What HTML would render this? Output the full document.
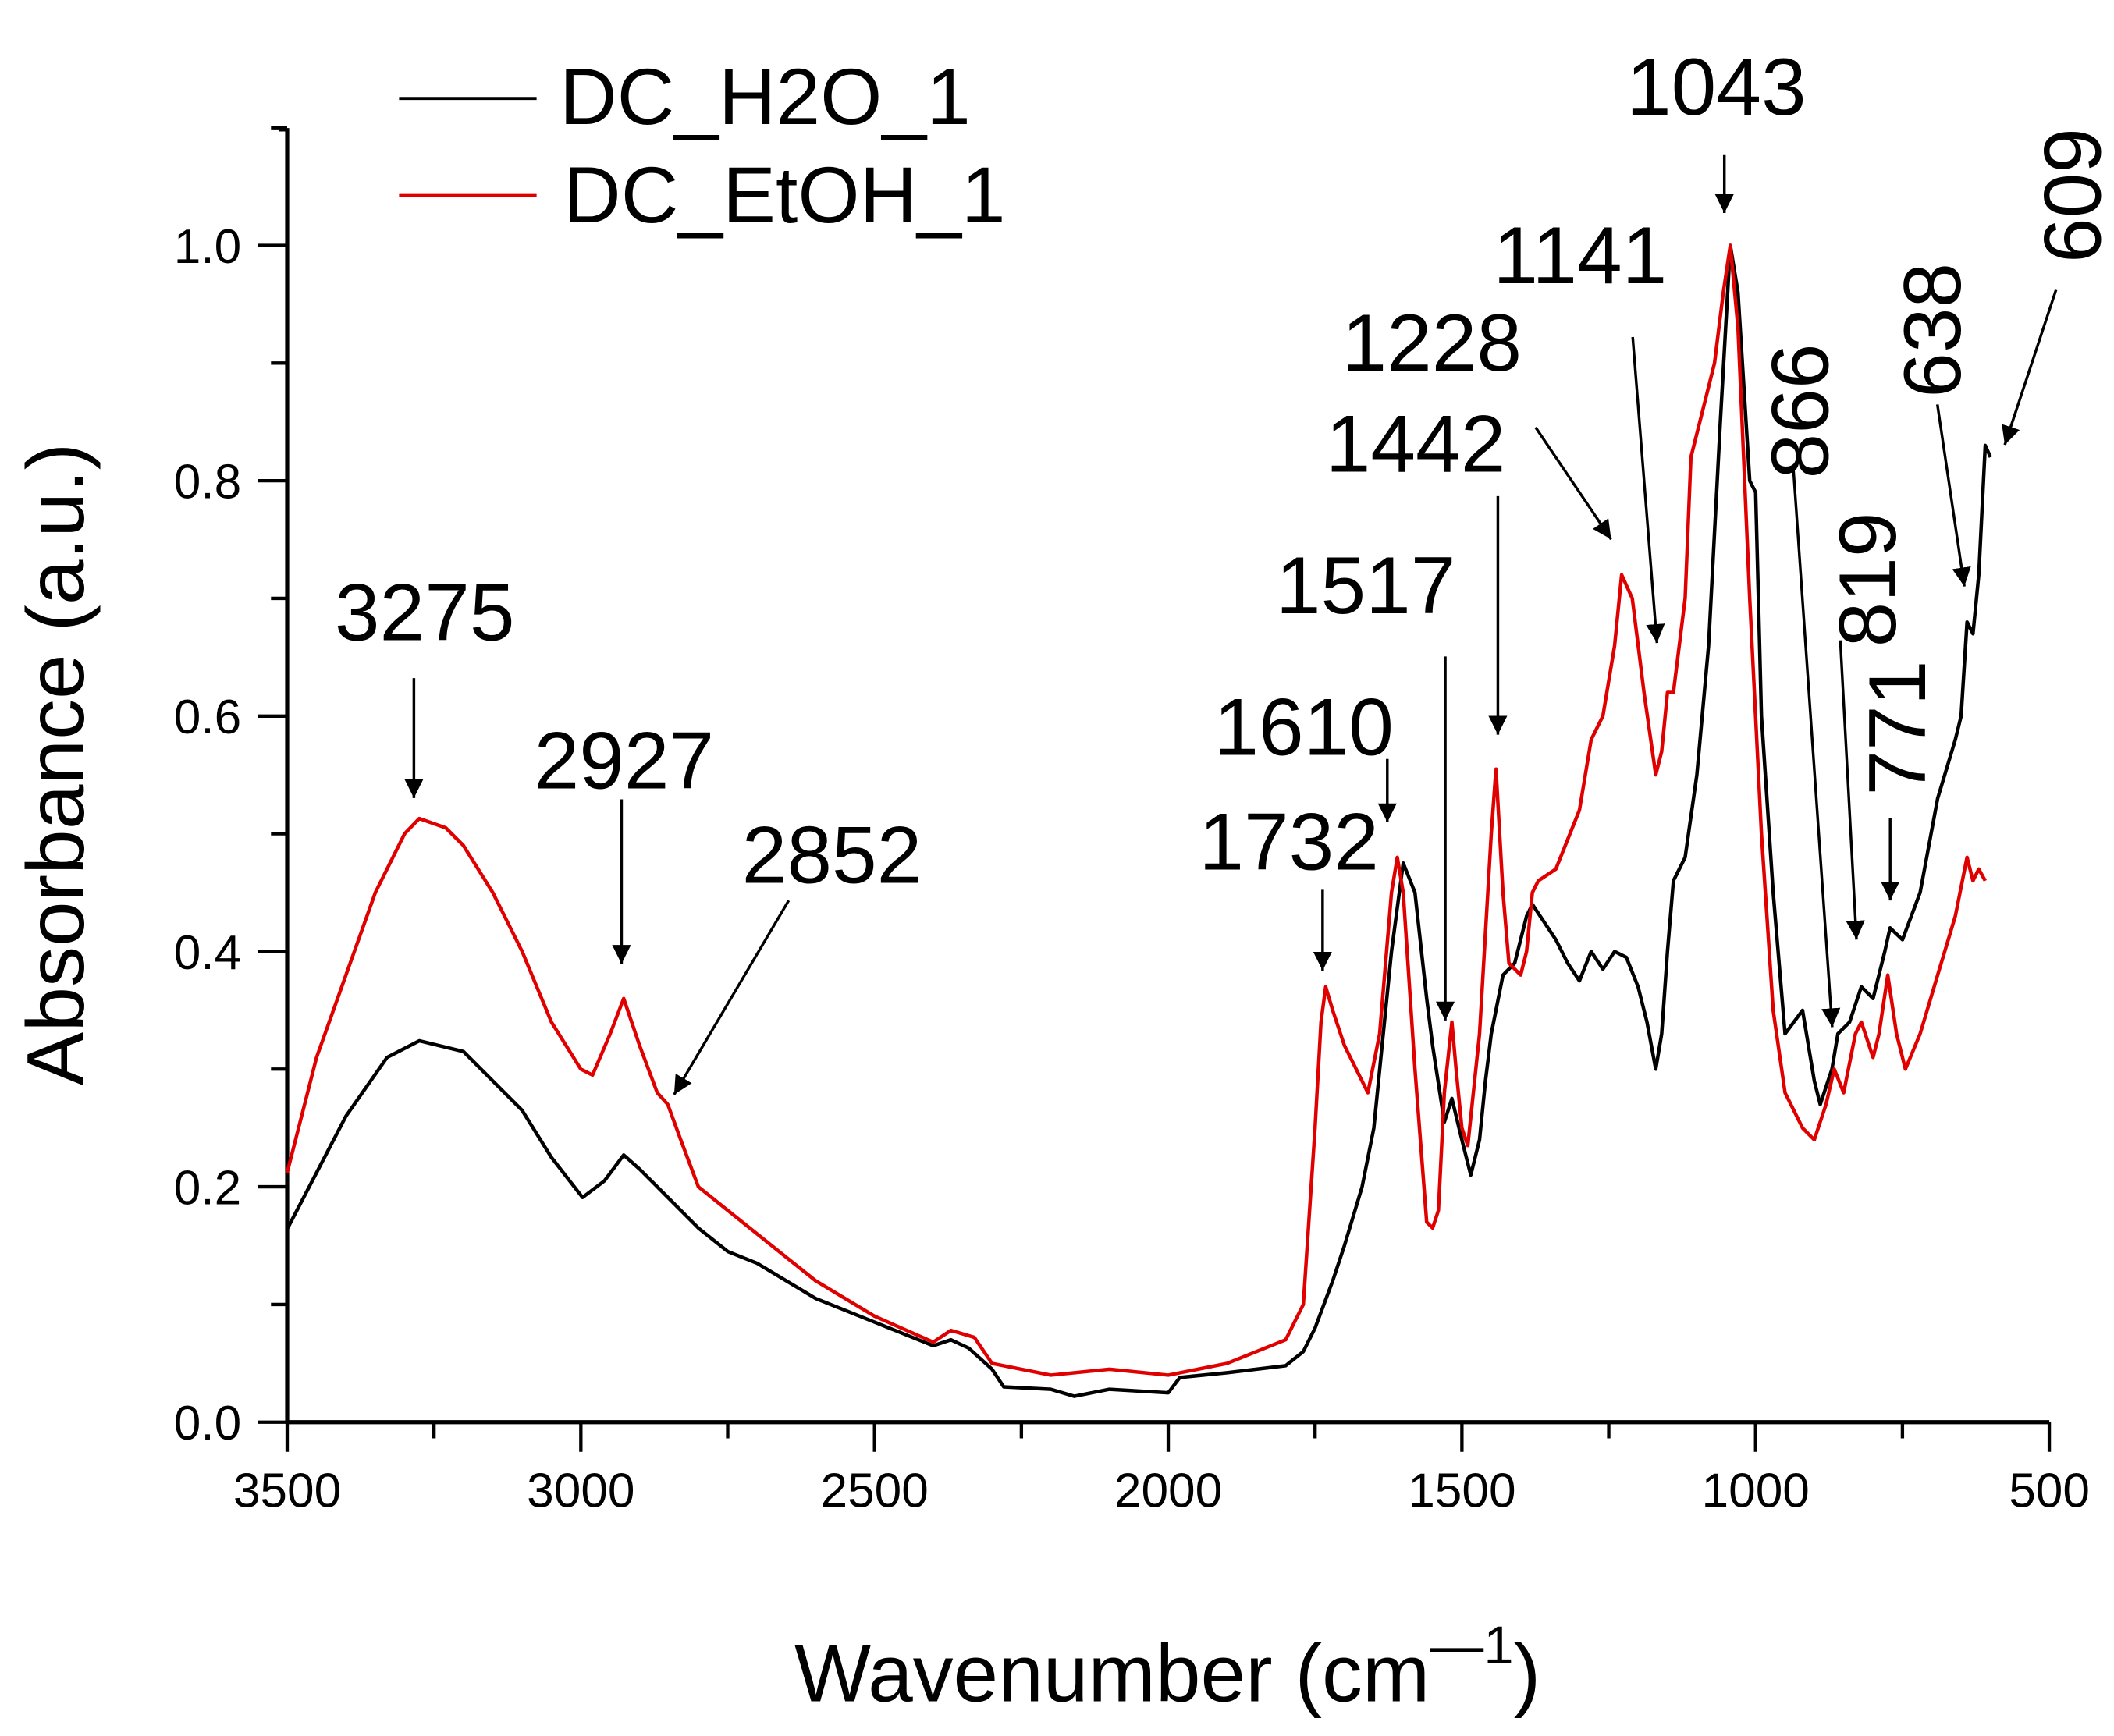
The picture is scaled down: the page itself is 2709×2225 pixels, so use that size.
<!DOCTYPE html>
<html><head><meta charset="utf-8"><style>
html,body{margin:0;padding:0;background:#fff;}
svg{display:block;font-family:"Liberation Sans",Arial,sans-serif;}
</style></head><body>
<svg id="chart" width="2709" height="2225" viewBox="0 0 1568 1287.8" xmlns="http://www.w3.org/2000/svg">
<defs><marker id="ah" viewBox="0 0 10 10" refX="10" refY="5" markerWidth="14" markerHeight="14" markerUnits="userSpaceOnUse" orient="auto"><path d="M0,0 L10,5 L0,10 z" fill="#000"/></marker></defs>
<g id="axes"></g>
<g id="series"></g>
<g id="annots"></g>
<g>
<line x1="296" y1="73" x2="398" y2="73" stroke="#000" stroke-width="2.2"/>
<text x="415" y="92" font-size="59">DC_H2O_1</text>
<line x1="296" y1="145" x2="398" y2="145" stroke="#e00000" stroke-width="2.2"/>
<text x="418" y="165" font-size="59">DC_EtOH_1</text>
</g>
<text transform="translate(62,567) rotate(-90)" text-anchor="middle" font-size="60">Absorbance (a.u.)</text>
<text x="866" y="1262" text-anchor="middle" font-size="60">Wavenumber (cm<tspan font-size="40" dy="-28">—1</tspan><tspan dy="28">)</tspan></text>
</svg>
<script>
const xTicks=[3500,3000,2500,2000,1500,1000,500];
const yTicks=[0.0,0.2,0.4,0.6,0.8,1.0];
const h2oWn=[3500,3400,3330,3275,3200,3100,3050,2997,2960,2927,2900,2870,2850,2800,2750,2700,2650,2600,2500,2400,2370,2340,2300,2280,2200,2160,2100,2000,1980,1900,1800,1770,1750,1720,1700,1670,1650,1620,1600,1580,1560,1550,1530,1517,1500,1485,1470,1460,1450,1430,1410,1390,1380,1360,1340,1320,1300,1280,1260,1240,1220,1200,1185,1170,1160,1150,1140,1120,1100,1080,1060,1043,1030,1010,1000,990,970,950,920,900,890,870,860,840,820,800,780,771,750,720,690,660,650,640,630,620,609,600];
const h2oAbs=[0.164,0.26,0.31,0.324,0.315,0.265,0.225,0.191,0.205,0.227,0.215,0.2,0.19,0.165,0.145,0.135,0.12,0.105,0.085,0.065,0.07,0.063,0.045,0.03,0.028,0.022,0.028,0.025,0.038,0.042,0.048,0.06,0.08,0.12,0.15,0.2,0.25,0.4,0.475,0.45,0.36,0.32,0.255,0.275,0.24,0.21,0.24,0.29,0.33,0.38,0.39,0.43,0.44,0.425,0.41,0.39,0.375,0.40,0.385,0.40,0.395,0.37,0.34,0.30,0.33,0.40,0.46,0.48,0.55,0.66,0.85,1.0,0.96,0.8,0.79,0.6,0.45,0.33,0.35,0.29,0.27,0.30,0.33,0.34,0.37,0.36,0.40,0.42,0.41,0.45,0.53,0.58,0.60,0.68,0.67,0.72,0.83,0.82];
const etohWn=[3500,3450,3400,3350,3300,3275,3230,3200,3150,3100,3050,3000,2980,2950,2927,2900,2870,2852,2830,2800,2750,2700,2600,2500,2400,2370,2330,2300,2200,2100,2000,1900,1800,1770,1750,1740,1732,1720,1700,1680,1660,1640,1620,1610,1600,1580,1560,1550,1540,1530,1517,1510,1500,1490,1470,1450,1442,1430,1420,1400,1390,1380,1370,1340,1300,1280,1260,1240,1228,1210,1190,1170,1160,1150,1140,1120,1110,1090,1070,1055,1043,1030,1010,990,970,950,920,900,880,866,850,830,820,800,790,775,760,745,720,690,660,640,630,620,609];
const etohAbs=[0.212,0.31,0.38,0.45,0.5,0.513,0.505,0.49,0.45,0.40,0.34,0.30,0.295,0.33,0.36,0.32,0.28,0.27,0.24,0.2,0.18,0.16,0.12,0.09,0.068,0.078,0.072,0.05,0.04,0.045,0.04,0.05,0.07,0.1,0.25,0.34,0.37,0.35,0.32,0.3,0.28,0.33,0.45,0.48,0.45,0.3,0.17,0.165,0.18,0.28,0.34,0.3,0.25,0.235,0.33,0.5,0.555,0.45,0.39,0.38,0.40,0.45,0.46,0.47,0.52,0.58,0.6,0.66,0.72,0.70,0.62,0.55,0.57,0.62,0.62,0.7,0.82,0.86,0.9,0.96,1.0,0.93,0.7,0.5,0.35,0.28,0.25,0.24,0.27,0.30,0.28,0.33,0.34,0.31,0.33,0.38,0.33,0.30,0.33,0.38,0.43,0.48,0.46,0.47,0.46];
const annLabels=["3275","2927","2852","1732","1610","1517","1442","1228","1141","1043","866","819","771","638","609"];
const NS="http://www.w3.org/2000/svg";
function X(w){return 213+(3500-w)/3000*1307;}
function Y(v){return 1055-v*873;}
function mk(tag,attrs,parent){const e=document.createElementNS(NS,tag);for(const k in attrs)e.setAttribute(k,attrs[k]);parent.appendChild(e);return e;}
const axes=document.getElementById('axes');
let l=mk('line',{x1:X(3500),y1:Y(0),x2:X(500),y2:Y(0),stroke:'#000','stroke-width':3},axes);


l=mk('line',{x1:X(3500),y1:Y(0),x2:X(3500),y2:95,stroke:'#000','stroke-width':3},axes);


mk('line',{x1:X(3500)-6,y1:96,x2:X(3500),y2:96,stroke:'#000','stroke-width':3},axes);
for(let w=3500;w>=500;w-=250){const major=(w%500===0);mk('line',{x1:X(w),y1:Y(0),x2:X(w),y2:Y(0)+(major?22:12),stroke:'#000','stroke-width':2.5},axes);}
xTicks.forEach(w=>{const t=mk('text',{x:X(w),y:Y(0)+63,'text-anchor':'middle','font-size':36},axes);t.textContent=w;

});
for(let i=0;i<=11;i++){const v=i*0.1;const major=(i%2===0);mk('line',{x1:X(3500)-(major?22:12),y1:Y(v),x2:X(3500),y2:Y(v),stroke:'#000','stroke-width':2.5},axes);}
yTicks.forEach(v=>{const t=mk('text',{x:X(3500)-34,y:Y(v)+13,'text-anchor':'end','font-size':36},axes);t.textContent=v.toFixed(1);

});
const ser=document.getElementById('series');
function path(ws,vs,color,name){let d=ws.map((w,i)=>(i?'L':'M')+X(w).toFixed(1)+','+Y(vs[i]).toFixed(1)).join('');
const p=mk('path',{d:d,fill:'none',stroke:color,'stroke-width':2.6,'stroke-linejoin':'round'},ser);

}
path(h2oWn,h2oAbs,'#000','series-dc-h2o-1');
path(etohWn,etohAbs,'#e00000','series-dc-etoh-1');
// annotation placement [tx,ty,rotate,x1,y1,x2,y2]
const annPos=[[315,475,0,307,503,307,592],[463,585,0,461,593,461,715],[617,655,0,585,668,500,812],[956,645,0,981,660,981,720],[967,560,0,1029,563,1029,610],[1013,455,0,1072,487,1072,757],[1050,350,0,1111,368,1111,545],[1062,275,0,1139,317,1195,400],[1172,210,0,1211,250,1229,477],[1273,85,0,1279,115,1279,158],[1356,305,1,1330,345,1359,762],[1406,430,1,1365,475,1377,697],[1428,540,1,1402,607,1402,668],[1454,245,1,1437,300,1457,435],[1558,145,1,1525,215,1487,330]];
const an=document.getElementById('annots');
annLabels.forEach((s,i)=>{const p=annPos[i];
const t=mk('text',{'text-anchor':'middle','font-size':60},an);
if(p[2])t.setAttribute('transform','translate('+p[0]+','+p[1]+') rotate(-90)');else{t.setAttribute('x',p[0]);t.setAttribute('y',p[1]);}
t.textContent=s;


const a=mk('line',{x1:p[3],y1:p[4],x2:p[5],y2:p[6],stroke:'#000','stroke-width':2,'marker-end':'url(#ah)'},an);

});
</script>
</body></html>
